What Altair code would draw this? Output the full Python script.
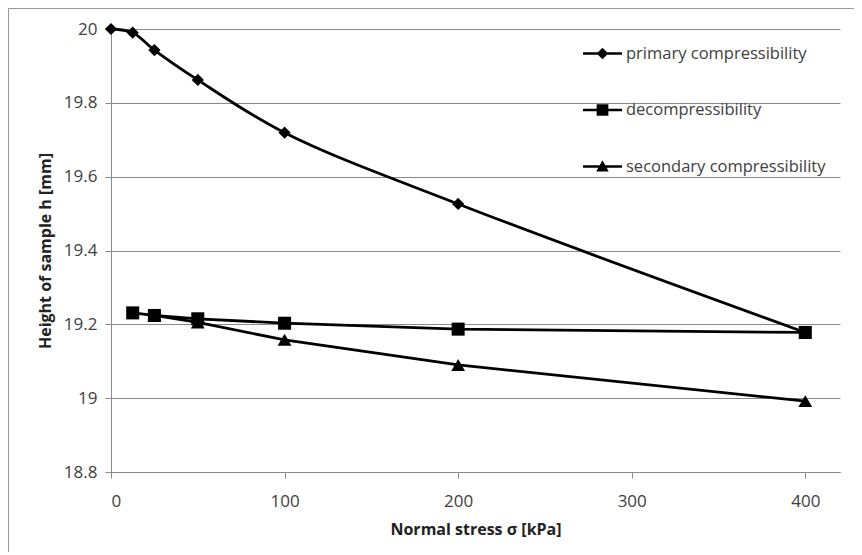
import altair as alt
import pandas as pd

series_names = ["primary compressibility", "decompressibility", "secondary compressibility"]

primary_x = [0, 12.5, 25, 50, 100, 200, 400]
primary_y = [20.0, 19.99, 19.943, 19.862, 19.719, 19.526, 19.178]

decomp_x = [12.5, 25, 50, 100, 200, 400]
decomp_y = [19.231, 19.224, 19.215, 19.203, 19.187, 19.178]

second_x = [25, 50, 100, 200, 400]
second_y = [19.224, 19.205, 19.158, 19.09, 18.992]

x_ticks = [0, 100, 200, 300, 400]
y_ticks = [18.8, 19.0, 19.2, 19.4, 19.6, 19.8, 20.0]

rows = []
for name, xs, ys in zip(series_names, [primary_x, decomp_x, second_x], [primary_y, decomp_y, second_y]):
    for i, (a, b) in enumerate(zip(xs, ys)):
        rows.append({"series": name, "stress": a, "height": b, "order": i})
df = pd.DataFrame(rows)

FONT = "Open Sans"
GRAY = "#8a8a8a"
TEXT = "#404040"

x_enc = alt.X("stress:Q", scale=alt.Scale(domain=[0, 420], nice=False, zero=False),
              axis=alt.Axis(values=x_ticks, title="Normal stress σ [kPa]", grid=False,
                            tickSize=6, labelPadding=15, titlePadding=12))
y_enc = alt.Y("height:Q", scale=alt.Scale(domain=[18.8, 20.0], nice=False, zero=False),
              axis=alt.Axis(values=y_ticks, title="Height of sample h [mm]", labelExpr="format(datum.value, '~f')",
                            tickSize=6, labelPadding=8, titlePadding=10))

base = alt.Chart(df)

line_primary = base.transform_filter(alt.datum.series == series_names[0]).mark_line(
    color="black", strokeWidth=2.8, interpolate="catmull-rom").encode(x=x_enc, y=y_enc, order="order:Q")
line_other = base.transform_filter(alt.datum.series != series_names[0]).mark_line(
    color="black", strokeWidth=2.8).encode(x="stress:Q", y="height:Q", detail="series:N", order="order:Q")

points = base.mark_point(filled=True, color="black", opacity=1).encode(
    x="stress:Q", y="height:Q",
    shape=alt.Shape("series:N", scale=alt.Scale(domain=series_names, range=["diamond", "square", "triangle-up"]), legend=None),
    size=alt.Size("series:N", scale=alt.Scale(domain=series_names, range=[150, 190, 190]), legend=None),
)

leg_paths = [
    "M-1,-0.07L1,-0.07L1,0.07L-1,0.07Z M0,-0.3L0.3,0L0,0.3L-0.3,0Z",
    "M-1,-0.07L1,-0.07L1,0.07L-1,0.07Z M-0.3,-0.3L0.3,-0.3L0.3,0.3L-0.3,0.3Z",
    "M-1,-0.07L1,-0.07L1,0.07L-1,0.07Z M0,-0.32L0.32,0.26L-0.32,0.26Z",
]
legend_layer = base.transform_filter("false").transform_calculate(legend_name="datum.series").mark_point(
    filled=True, color="black", size=1521, opacity=1).encode(
    x="stress:Q", y="height:Q",
    shape=alt.Shape("legend_name:N", scale=alt.Scale(domain=series_names, range=leg_paths),
                    legend=alt.Legend(title=None, orient="none", legendX=472, legendY=5, padding=0,
                                      labelFont=FONT, labelFontSize=16.5, labelColor=TEXT, labelLimit=0,
                                      rowPadding=28.5, labelOffset=4, symbolSize=1521, symbolStrokeWidth=0,
                                      symbolFillColor="black", symbolOpacity=1)),
)

frame = alt.Chart(pd.DataFrame({"a": [0]})).mark_rect(fill=None, stroke="#9a9a9a", strokeWidth=1).encode(
    x=alt.value(-102.5), x2=alt.value(900), y=alt.value(-20.5), y2=alt.value(700))

chart = alt.layer(frame, line_primary, line_other, points, legend_layer).resolve_scale(
    shape="independent"
).properties(
    width=729, height=443, autosize="none",
    padding={"left": 103, "top": 21, "right": 14, "bottom": 80},
).configure_view(stroke=None).configure_axis(
    labelFont=FONT, titleFont=FONT, labelFontSize=17, titleFontSize=16, labelColor=TEXT, titleColor="#222222",
    titleFontWeight="bold", domainColor=GRAY, tickColor=GRAY, gridColor=GRAY, gridWidth=1, domainWidth=1,
)

chart.save("out.html", embed_options={"renderer": "svg", "actions": False})
